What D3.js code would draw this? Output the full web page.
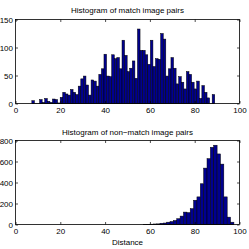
<!DOCTYPE html>
<html lang="en">
<head>
  <meta charset="UTF-8">
  <title>Histograms of match / non-match image pairs</title>
  <script src="https://d3js.org/d3.v7.min.js"></script>
  <style>
    body { margin: 0; background: #fff; }
    svg { display: block; }
    text { font-family: "Liberation Sans", Arial, sans-serif; font-size: 8px; fill: #000; }
  </style>
</head>
<body>
  <svg width="249" height="249"></svg>
  <script>
    // bin edges (last value closes the last bin) and counts
    const matchEdges = [7.30, 8.45, 9.60, 10.75, 11.90, 13.05, 14.20, 15.35, 16.50, 17.65,
      18.80, 19.95, 21.10, 22.25, 23.40, 24.55, 25.70, 26.85, 28.00, 29.15,
      30.30, 31.45, 32.60, 33.75, 34.90, 36.05, 37.20, 38.35, 39.50, 40.65,
      41.80, 42.95, 44.10, 45.25, 46.40, 47.55, 48.70, 49.85, 51.00, 52.15,
      53.30, 54.45, 55.60, 56.75, 57.90, 59.05, 60.20, 61.35, 62.50, 63.65,
      64.80, 65.95, 67.10, 68.25, 69.40, 70.55, 71.70, 72.85, 74.00, 75.15,
      76.30, 77.45, 78.60, 79.75, 80.90, 82.05, 83.20, 84.35, 85.50, 86.65,
      87.80, 88.95];
    const matchCounts = [5, 0, 0, 7, 2, 9, 4, 2, 8, 7, 1,
      11, 20, 17, 15, 25, 20, 16, 31, 44, 49, 33, 15, 42, 40, 31, 52, 62,
      88, 49, 48, 87, 80, 82, 62, 113, 86, 57, 63, 76, 45, 133, 95, 95, 87, 70,
      113, 66, 80, 79, 125, 115, 49, 62, 82, 63, 35, 48, 38, 26, 57, 52, 38, 26,
      40, 9, 32, 20, 10, 0, 16];

    const nonMatchEdges = [57.0, 58.5, 60.0, 61.5, 63.0, 64.5, 66.0, 67.5, 69.0, 70.5,
      72.0, 73.5, 75.0, 76.5, 78.0, 79.5, 81.0, 82.5, 84.0, 85.5,
      87.0, 88.5, 90.0, 91.5, 93.0, 94.5, 96.0, 97.5];
    const nonMatchCounts = [1, 2, 3, 5, 6, 12, 14, 22, 28, 38,
      55, 80, 118, 113, 151, 231, 263, 388, 537, 627,
      735, 755, 672, 575, 263, 70, 22];

    const xTicks = [0, 20, 40, 60, 80, 100];
    const matchYTicks = [0, 50, 100, 150];
    const nonMatchYTicks = [0, 200, 400, 600, 800];

    const svg = d3.select("svg");
    const left = 15.5, right = 239.5;

    function drawPanel(opts) {
      const { top, bottom, edges, counts, yMax, yTicks, title, titleY, xLabel } = opts;

      const x = d3.scaleLinear().domain([0, 100]).range([left, right]);
      const y = d3.scaleLinear().domain([0, yMax]).range([bottom, top]);

      const g = svg.append("g");

      const bins = counts.map((c, i) => ({ x0: edges[i], x1: edges[i + 1], n: c }));

      g.selectAll("rect.bar")
        .data(bins.filter(d => d.n > 0))
        .enter().append("rect")
        .attr("class", "bar")
        .attr("x", d => x(d.x0))
        .attr("width", d => x(d.x1) - x(d.x0))
        .attr("y", d => y(d.n))
        .attr("height", d => y(0) - y(d.n))
        .attr("fill", "#00008f")
        .attr("stroke", "#000")
        .attr("stroke-width", 0.5);

      // zero line where bins are empty
      g.append("line")
        .attr("x1", x(edges[0])).attr("x2", x(edges[edges.length - 1]))
        .attr("y1", y(0)).attr("y2", y(0))
        .attr("stroke", "#000").attr("stroke-width", 0.5);

      const tick = 2.5;

      const xAxis = g.append("g")
        .attr("transform", `translate(0,${bottom})`)
        .call(d3.axisBottom(x).tickValues(xTicks).tickSizeInner(-tick).tickSizeOuter(0).tickPadding(3.5));
      g.append("g")
        .attr("transform", `translate(0,${top})`)
        .call(d3.axisTop(x).tickValues(xTicks).tickSizeInner(-tick).tickSizeOuter(0).tickFormat(""));
      const yAxis = g.append("g")
        .attr("transform", `translate(${left},0)`)
        .call(d3.axisLeft(y).tickValues(yTicks).tickSizeInner(-tick).tickSizeOuter(0).tickPadding(2.5));
      g.append("g")
        .attr("transform", `translate(${right},0)`)
        .call(d3.axisRight(y).tickValues(yTicks).tickSizeInner(-tick).tickSizeOuter(0).tickFormat(""));

      g.selectAll(".domain").remove();
      g.selectAll(".tick line").attr("stroke", "#000").attr("stroke-width", 0.7);
      g.selectAll(".tick text").attr("font-size", 8).attr("font-family", null);

      g.append("rect")
        .attr("x", left).attr("y", top)
        .attr("width", right - left).attr("height", bottom - top)
        .attr("fill", "none").attr("stroke", "#000").attr("stroke-width", 0.8);

      g.append("text")
        .attr("x", (left + right) / 2)
        .attr("y", titleY)
        .attr("text-anchor", "middle")
        .text(title);

      if (xLabel) {
        g.append("text")
          .attr("x", (left + right) / 2)
          .attr("y", bottom + 20.5)
          .attr("text-anchor", "middle")
          .text(xLabel);
      }
    }

    drawPanel({
      top: 19.5, bottom: 103.5,
      edges: matchEdges, counts: matchCounts,
      yMax: 150, yTicks: matchYTicks,
      title: "Histogram of match image pairs", titleY: 13
    });

    drawPanel({
      top: 140.5, bottom: 224.5,
      edges: nonMatchEdges, counts: nonMatchCounts,
      yMax: 800, yTicks: nonMatchYTicks,
      title: "Histogram of non\u2212match image pairs", titleY: 135,
      xLabel: "Distance"
    });
  </script>
</body>
</html>
